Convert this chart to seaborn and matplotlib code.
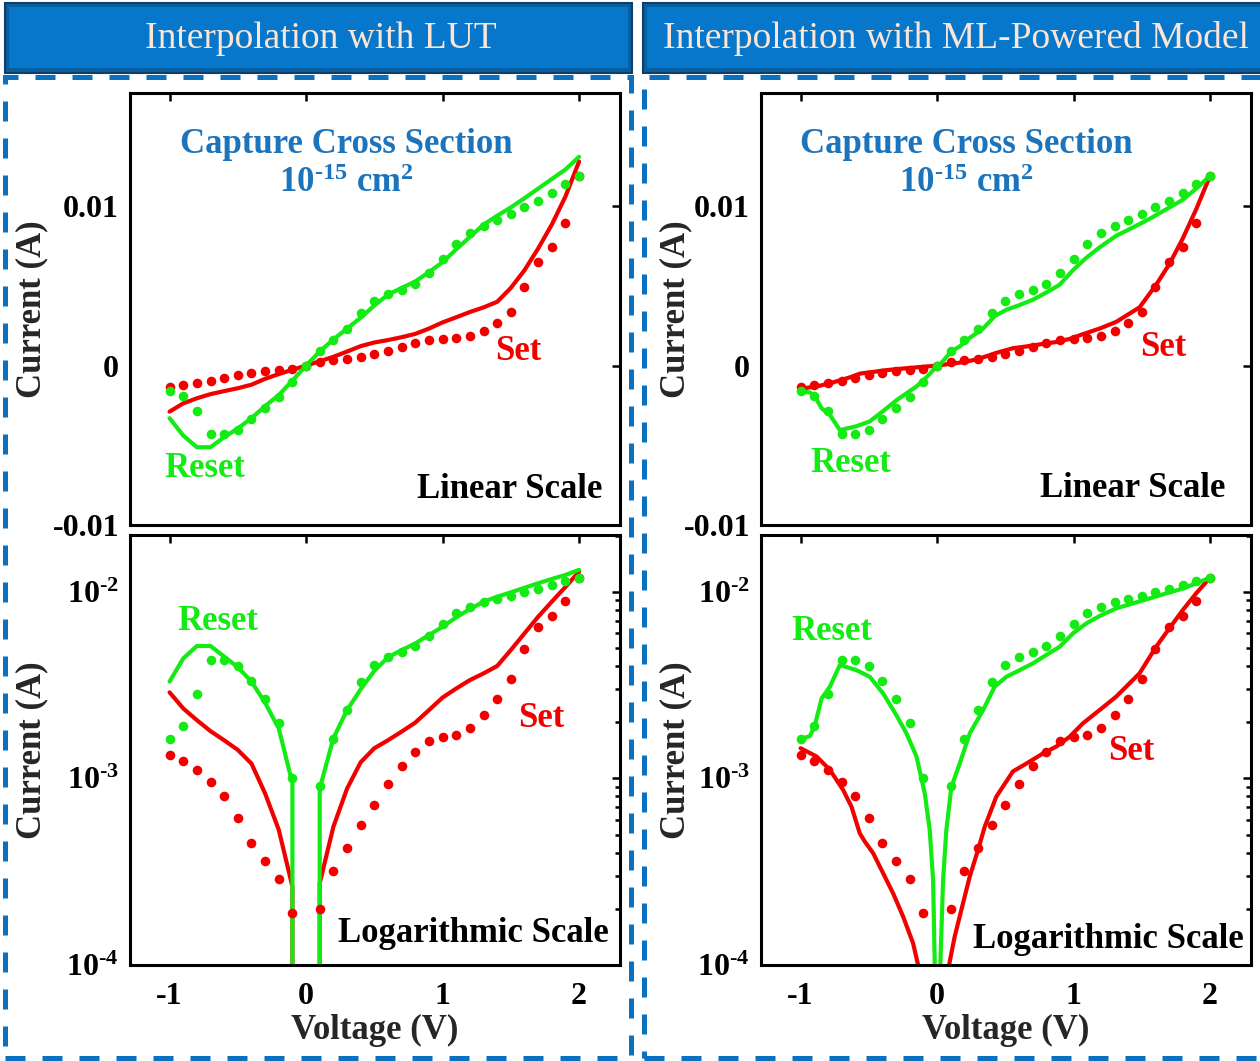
import numpy as np
import seaborn as sns
import matplotlib.pyplot as plt
from matplotlib.patches import Rectangle
from matplotlib.ticker import LogLocator, NullFormatter

# measured sweep (dots), same for both columns
volt = [-1.0, -0.9, -0.8, -0.7, -0.6, -0.5, -0.4, -0.3, -0.2, -0.1, 0.0,
        0.1, 0.2, 0.3, 0.4, 0.5, 0.6, 0.7, 0.8, 0.9, 1.0,
        1.1, 1.2, 1.3, 1.4, 1.5, 1.6, 1.7, 1.8, 1.9, 2.0]
meas_set = [-1.33e-3, -1.24e-3, -1.11e-3, -9.6e-4, -8.0e-4, -6.1e-4, -4.5e-4, -3.6e-4, -2.9e-4, -1.9e-4, 0.0,
            2.0e-4, 3.2e-4, 4.25e-4, 5.6e-4, 7.2e-4, 9.3e-4, 1.17e-3, 1.39e-3, 1.58e-3, 1.67e-3,
            1.71e-3, 1.87e-3, 2.18e-3, 2.66e-3, 3.39e-3, 4.91e-3, 6.5e-3, 7.44e-3, 8.95e-3, 1.19e-2]
meas_reset = [-1.62e-3, -1.91e-3, -2.82e-3, -4.30e-3, -4.32e-3, -4.02e-3, -3.34e-3, -2.66e-3, -1.99e-3, -1.0e-3, 0.0,
              9.1e-4, 1.62e-3, 2.32e-3, 3.30e-3, 4.05e-3, 4.46e-3, 4.75e-3, 5.14e-3, 5.79e-3, 6.71e-3,
              7.65e-3, 8.31e-3, 8.77e-3, 9.14e-3, 9.52e-3, 9.92e-3, 1.03e-2, 1.08e-2, 1.14e-2, 1.19e-2]

# LUT interpolation (lines, left column)
lut_set = [-2.89e-3, -2.37e-3, -2.05e-3, -1.79e-3, -1.60e-3, -1.42e-3, -1.20e-3, -8.3e-4, -5.3e-4, -2.63e-4, 0.0,
           2.74e-4, 5.5e-4, 8.8e-4, 1.22e-3, 1.45e-3, 1.60e-3, 1.78e-3, 1.99e-3, 2.32e-3, 2.71e-3,
           3.03e-3, 3.36e-3, 3.65e-3, 4.0e-3, 4.87e-3, 5.98e-3, 7.34e-3, 8.84e-3, 1.06e-2, 1.28e-2]
lut_reset = [-3.30e-3, -4.39e-3, -5.12e-3, -5.12e-3, -4.49e-3, -3.94e-3, -3.30e-3, -2.54e-3, -1.85e-3, -9.4e-4, 0.0,
             8.8e-4, 1.64e-3, 2.32e-3, 3.0e-3, 3.77e-3, 4.45e-3, 4.87e-3, 5.28e-3, 5.86e-3, 6.49e-3,
             7.29e-3, 8.07e-3, 8.84e-3, 9.40e-3, 9.92e-3, 1.05e-2, 1.11e-2, 1.17e-2, 1.23e-2, 1.31e-2]

# ML-powered model (lines, right column)
ml_set_v = [-1.0, -0.883, -0.785, -0.688, -0.627, -0.566, -0.529, -0.468, -0.395, -0.322, -0.249, -0.176, -0.139,
            0.0, 0.088, 0.129, 0.19, 0.239, 0.3, 0.349, 0.434, 0.556, 0.654, 0.776, 0.873, 0.971, 1.068,
            1.19, 1.312, 1.483, 1.605, 1.702, 1.8, 1.898, 2.0]
ml_set_i = [-1.45e-3, -1.31e-3, -1.11e-3, -8.66e-4, -7.05e-4, -5.07e-4, -4.58e-4, -3.97e-4, -3.1e-4, -2.42e-4,
            -1.82e-4, -1.31e-4, -1.0e-4, 0.0, 1.0e-4, 1.42e-4, 2.14e-4, 2.97e-4, 4.13e-4, 5.5e-4, 7.98e-4,
            1.09e-3, 1.2e-3, 1.36e-3, 1.48e-3, 1.67e-3, 1.97e-3, 2.32e-3, 2.74e-3, 3.65e-3, 5.07e-3,
            6.37e-3, 7.97e-3, 9.8e-3, 1.19e-2]
ml_reset_v = [-1.0, -0.93, -0.895, -0.846, -0.785, -0.712, -0.59, -0.493, -0.395, -0.298, -0.224, -0.151,
              -0.09, -0.054, -0.029, -0.017, 0.0, 0.024, 0.044, 0.068, 0.105, 0.166, 0.239, 0.337, 0.422,
              0.507, 0.605, 0.702, 0.8, 0.898, 0.995, 1.093, 1.19, 1.312, 1.434, 1.556, 1.678, 1.8, 1.898, 2.0]
ml_reset_i = [-1.62e-3, -1.69e-3, -1.93e-3, -2.68e-3, -3.1e-3, -4.05e-3, -3.8e-3, -3.5e-3, -2.85e-3, -2.18e-3,
              -1.74e-3, -1.31e-3, -8.3e-4, -5.3e-4, -2.85e-4, -1.0e-4, 0.0, 1.0e-4, 2.85e-4, 5.3e-4, 9.0e-4,
              1.2e-3, 1.74e-3, 2.32e-3, 3.1e-3, 3.5e-3, 3.8e-3, 4.13e-3, 4.58e-3, 5.07e-3, 5.98e-3,
              6.76e-3, 7.41e-3, 8.14e-3, 8.66e-3, 9.2e-3, 9.8e-3, 1.04e-2, 1.11e-2, 1.19e-2]

RED = '#F20000'
GREEN = '#14EA14'
BLUE = '#1C75BC'
DASH = '#0A70C0'
HY = '\u2010'  # short hyphen for exponents

sns.set_theme(style='white')
plt.rcParams['font.family'] = ['Liberation Serif', 'DejaVu Serif']
plt.rcParams['font.weight'] = 'bold'
plt.rcParams['axes.linewidth'] = 2.2
plt.rcParams['axes.edgecolor'] = 'black'

W, H = 1260, 1061
fig = plt.figure(figsize=(W / 100, H / 100), dpi=100, facecolor='white')


def px_axes(x0, y0, x1, y1):
    return fig.add_axes([x0 / W, 1 - y1 / H, (x1 - x0) / W, (y1 - y0) / H])


def ptext(x, y, s, **kw):
    fig.text(x / W, 1 - y / H, s, **kw)


def draw_panel(ax, sv, si, rv, ri, log, bottom, ylab_x):
    f = np.abs if log else np.asarray
    sns.lineplot(x=sv, y=f(si), color=RED, lw=3, estimator=None, sort=False, ax=ax)
    sns.lineplot(x=rv, y=f(ri), color=GREEN, lw=3, estimator=None, sort=False, ax=ax)
    sns.scatterplot(x=volt, y=f(meas_set), color=RED, s=48, linewidth=0, ax=ax, zorder=3)
    sns.scatterplot(x=volt, y=f(meas_reset), color=GREEN, s=48, linewidth=0, ax=ax, zorder=3)

    ax.set_xlim(-1.29, 2.3)
    ax.set_xticks([-1, 0, 1, 2])
    if log:
        ax.set_yscale('log')
        ax.set_ylim(1e-4, 10 ** -1.696)
        labs = [r'$\mathregular{10^{%s%d}}$' % (HY, k) for k in (4, 3, 2)]
        ax.set_yticks([1e-4, 1e-3, 1e-2], labels=labs, fontsize=23, fontweight='bold')
        ax.yaxis.set_minor_locator(LogLocator(base=10, subs=np.arange(2, 10)))
        ax.yaxis.set_minor_formatter(NullFormatter())
    else:
        ax.set_ylim(-0.01, 0.0171)
        ax.set_yticks([-0.01, 0, 0.01], labels=['-0.01', '0', '0.01'], fontsize=23, fontweight='bold')

    ax.tick_params(which='both', direction='in', top=True, right=True, width=1.8, colors='black')
    ax.tick_params(which='major', length=6, pad=8)
    ax.tick_params(which='minor', length=3.5)
    if bottom:
        ax.set_xticklabels(['-1', '0', '1', '2'], fontsize=23, fontweight='bold')
        ax.tick_params(axis='x', pad=12)
        ax.set_xlabel('Voltage (V)', fontsize=25, fontweight='bold')
        ax.xaxis.set_label_coords(0.5, -0.115)
    else:
        ax.tick_params(labelbottom=False)
        ax.set_xlabel('')
    ax.set_ylabel('Current (A)', fontsize=25, fontweight='bold')
    ax.yaxis.set_label_coords(ylab_x, 0.5)
    for sp in ax.spines.values():
        sp.set_visible(True)


# header banners
for x0, x1, title, tx in [(5, 632, 'Interpolation with LUT', 321),
                          (643, 1275, 'Interpolation with ML-Powered Model', 956)]:
    fig.patches.append(Rectangle((x0 / W, 1 - 73 / H), (x1 - x0) / W, 70 / H, transform=fig.transFigure,
                                 fc='#0B5E9E', ec='#0A3F6E', lw=1.5))
    fig.patches.append(Rectangle(((x0 + 4) / W, 1 - 68 / H), (x1 - x0 - 8) / W, 61 / H,
                                 transform=fig.transFigure, fc='#0777CB', ec='none'))
    ptext(tx, 48, title, ha='center', va='baseline', color='#FBE5D6', fontsize=27, fontweight='normal')

# dashed frames
for x0, x1 in [(5, 631), (644, 1280)]:
    fig.patches.append(Rectangle((x0 / W, 1 - 1058 / H), (x1 - x0) / W, (1058 - 77) / H,
                                 transform=fig.transFigure, fill=False, ec=DASH, lw=3.6,
                                 ls=(0, (4, 3.4))))

# panels
ax_lt = px_axes(130, 93, 620, 525)
ax_lb = px_axes(130, 535, 620, 965)
ax_rt = px_axes(761, 93, 1251, 525)
ax_rb = px_axes(761, 535, 1251, 965)

draw_panel(ax_lt, volt, lut_set, volt, lut_reset, False, False, -0.167)
draw_panel(ax_lb, volt, lut_set, volt, lut_reset, True, True, -0.167)
draw_panel(ax_rt, ml_set_v, ml_set_i, ml_reset_v, ml_reset_i, False, False, -0.14)
draw_panel(ax_rb, ml_set_v, ml_set_i, ml_reset_v, ml_reset_i, True, True, -0.14)

# annotations
kw = dict(ha='center', va='baseline', fontsize=25, fontweight='bold')
for dx in (0, 620):
    ptext(346 + dx, 153, 'Capture Cross Section', color=BLUE, **kw)
    ptext(346 + dx, 192, r'$\mathregular{10^{%s15}}$ cm$\mathregular{^{2}}$' % HY, color=BLUE, **kw)

ptext(205, 477, 'Reset', color=GREEN, **kw)
ptext(518, 360, 'Set', color=RED, **kw)
ptext(510, 498, 'Linear Scale', color='black', **kw)
ptext(218, 630, 'Reset', color=GREEN, **kw)
ptext(541, 727, 'Set', color=RED, **kw)
ptext(473, 942, 'Logarithmic Scale', color='black', **kw)

ptext(851, 472, 'Reset', color=GREEN, **kw)
ptext(1163, 356, 'Set', color=RED, **kw)
ptext(1133, 497, 'Linear Scale', color='black', **kw)
ptext(832, 640, 'Reset', color=GREEN, **kw)
ptext(1131, 760, 'Set', color=RED, **kw)
ptext(1108, 948, 'Logarithmic Scale', color='black', **kw)

fig.savefig('out.png', dpi=100, facecolor='white')
